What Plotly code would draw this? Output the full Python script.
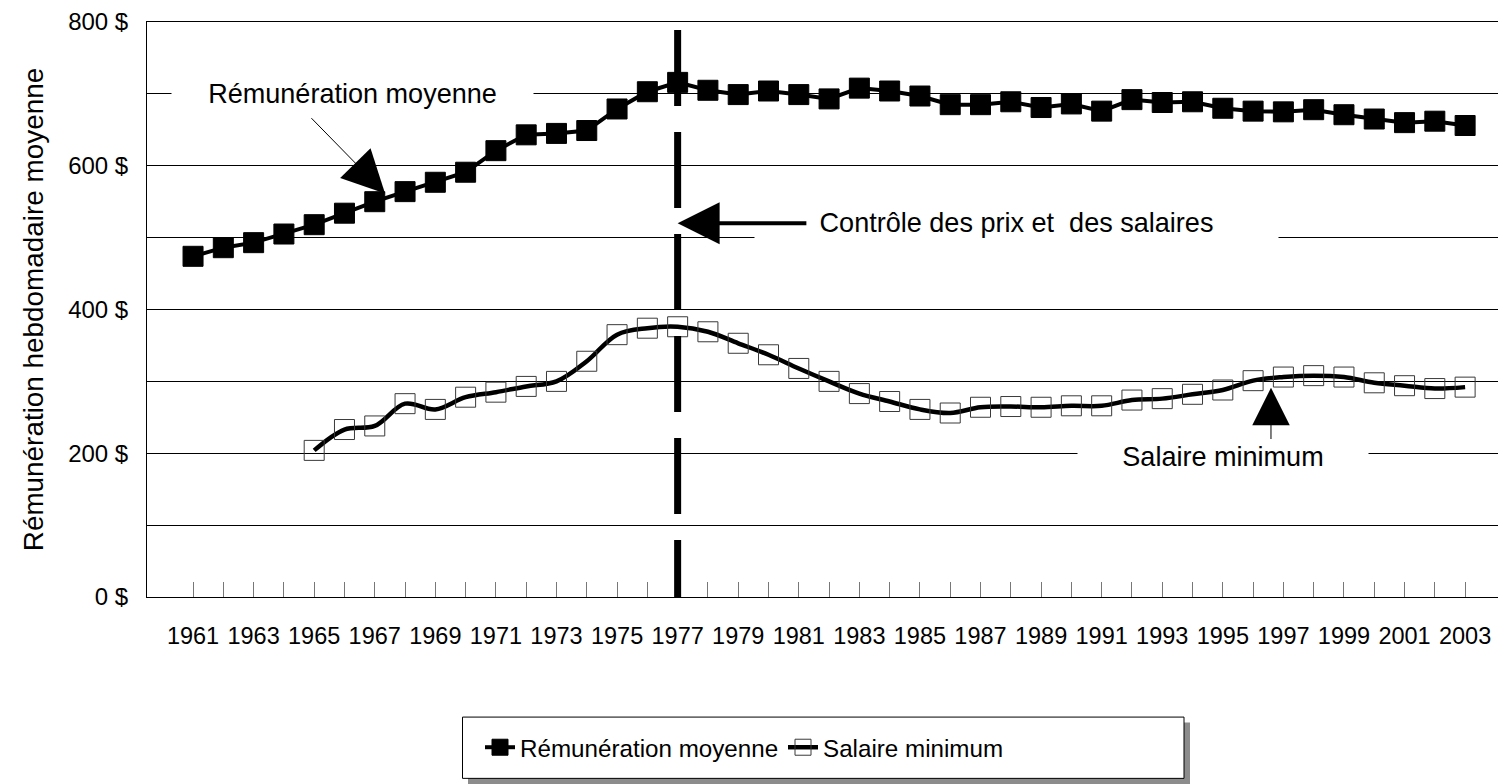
import glob
import os
import plotly.graph_objects as go

# ---------------- data ----------------
years = list(range(1961, 2004))
remuneration = [474, 486, 493, 505, 518, 534, 550, 564, 577, 591,
                621, 643, 645, 649, 679, 703, 716, 705, 699, 704,
                699, 693, 708, 704, 697, 685, 685, 689, 681, 686,
                676, 692, 688, 689, 680, 676, 675, 678, 671, 665,
                660, 662, 656]
salaire_minimum = [None, None, None, None,
                   204, 233, 238, 269, 261, 278, 285, 293, 300, 328,
                   365, 374, 376, 369, 353, 337, 318, 300, 283, 272,
                   261, 256, 264, 265, 264, 266, 266, 274, 276, 282,
                   288, 301, 306, 308, 306, 298, 294, 290, 292]
x_tick_labels = [str(y) if (y - 1961) % 2 == 0 else "" for y in years]
y_tick_values = list(range(0, 801, 100))
y_tick_labels = [f"{v} $" if v % 200 == 0 else "" for v in y_tick_values]
control_year = 1977
series_names = ["Rémunération moyenne", "Salaire minimum"]
y_title = "Rémunération hebdomadaire moyenne"
control_text = "Contrôle des prix et  des salaires"


# ---------------- fonts ----------------
def has_font(token):
    for root in ["/usr/share/fonts", "/usr/local/share/fonts", os.path.expanduser("~/.fonts")]:
        for f in glob.glob(os.path.join(root, "**", "*"), recursive=True):
            if token in os.path.basename(f):
                return True
    return False


if has_font("LiberationSansNarrow"):
    NARROW, k = "Liberation Sans Narrow", 1.0
else:
    NARROW, k = "Liberation Sans", 0.82
REG = "Liberation Sans"

# ---------------- layout geometry (page pixels; page body has an 8px margin) ----------------
OFF = 8
W, H = 1506 - OFF, 784 - OFF
PLOT_L, PLOT_R, PLOT_T, PLOT_B = 147, 1506, 20, 597   # plot area in page pixels
L, R, T, B = PLOT_L - OFF, 0, PLOT_T - OFF, H - (PLOT_B - OFF)
PW, PH = PLOT_R - PLOT_L, PLOT_B - PLOT_T


def px_x(p):
    return (p - PLOT_L) / PW


def px_y(p):
    return (PLOT_B - p) / PH


fig = go.Figure()

fig.add_trace(go.Scatter(
    x=years, y=remuneration, name=series_names[0], mode="lines+markers",
    line=dict(color="black", width=4),
    marker=dict(symbol="square", size=20, color="black", line=dict(color="black", width=1)),
))
fig.add_trace(go.Scatter(
    x=years, y=salaire_minimum, name=series_names[1], mode="lines+markers",
    line=dict(color="black", width=4.5, shape="spline", smoothing=1),
    marker=dict(symbol="square", size=20, color="rgba(0,0,0,0)", line=dict(color="#3a3a3a", width=1)),
))

# dashed vertical line
fig.add_shape(type="line", xref="x", yref="paper", x0=control_year, x1=control_year,
              y0=px_y(28), y1=0, line=dict(color="black", width=7, dash="76px,26px"), layer="above")

# legend box with shadow
fig.add_shape(type="rect", xref="paper", yref="paper",
              x0=px_x(468), x1=px_x(1190), y0=px_y(786), y1=px_y(723),
              fillcolor="#8c8c8c", line=dict(width=0), layer="below")
fig.add_shape(type="rect", xref="paper", yref="paper",
              x0=px_x(462.5), x1=px_x(1184), y0=px_y(779), y1=px_y(717.5),
              fillcolor="white", line=dict(color="black", width=1), layer="below")

ann = []
# text boxes
ann.append(dict(x=1966.27, y=700, xref="x", yref="y", text=series_names[0], showarrow=False,
                font=dict(family=NARROW, size=33 * k, color="black"), bgcolor="white",
                width=361, borderpad=0))
ann.append(dict(x=1988.19, y=520, xref="x", yref="y", text=control_text, showarrow=False,
                font=dict(family=NARROW, size=33 * k, color="black"), bgcolor="white",
                width=523, borderpad=0))
ann.append(dict(x=1995.01, y=195, xref="x", yref="y", text=series_names[1], showarrow=False,
                font=dict(family=NARROW, size=33 * k, color="black"), bgcolor="white",
                width=290, borderpad=0))
# arrows
ann.append(dict(x=1977, y=520, ax=1981.3, ay=520, xref="x", yref="y", axref="x", ayref="y",
                text="", showarrow=True, arrowhead=2, arrowwidth=4, arrowsize=2.1,
                arrowcolor="black", standoff=0))
ann.append(dict(x=1967.34, y=561.5, ax=1964.86, ay=668.3, xref="x", yref="y", axref="x", ayref="y",
                text="", showarrow=True, arrowhead=2, arrowwidth=1, arrowsize=8.5,
                arrowcolor="black", standoff=0))
ann.append(dict(x=1996.59, y=291, ax=1996.59, ay=217.7, xref="x", yref="y", axref="x", ayref="y",
                text="", showarrow=True, arrowhead=2, arrowwidth=1, arrowsize=7.5,
                arrowcolor="black", standoff=0))

fig.update_layout(
    width=W, height=H,
    margin=dict(l=L, r=R, t=T, b=B),
    paper_bgcolor="white", plot_bgcolor="white",
    showlegend=True,
    legend=dict(orientation="h", xref="container", yref="container",
                x=(480 - OFF) / W, y=1 - (747.5 - OFF) / H, xanchor="left", yanchor="middle",
                bgcolor="rgba(0,0,0,0)", borderwidth=0,
                font=dict(family=NARROW, size=29.5 * k, color="black"),
                entrywidth=258, entrywidthmode="pixels", traceorder="normal"),
    annotations=ann,
    font=dict(family=REG, color="black"),
)

fig.update_xaxes(
    range=[1959.48, 2004.35], tickmode="array", tickvals=years, ticktext=x_tick_labels,
    ticks="inside", ticklen=15, tickcolor="#777777", tickwidth=1,
    showline=True, linecolor="black", linewidth=1, mirror=True,
    showgrid=False, zeroline=False,
    tickfont=dict(family=REG, size=23.5, color="black"), ticklabelstandoff=18,
)
fig.update_yaxes(
    range=[0, 800], tickmode="array", tickvals=y_tick_values, ticktext=y_tick_labels,
    ticks="", showline=True, linecolor="black", linewidth=1,
    showgrid=True, gridcolor="black", gridwidth=1, zeroline=False,
    tickfont=dict(family=REG, size=24, color="black"), ticklabelstandoff=13,
    ticklabeloverflow="allow",
    title=dict(text=y_title, font=dict(family=NARROW, size=34 * k, color="black"), standoff=16),
)

fig.write_html("out.html")
